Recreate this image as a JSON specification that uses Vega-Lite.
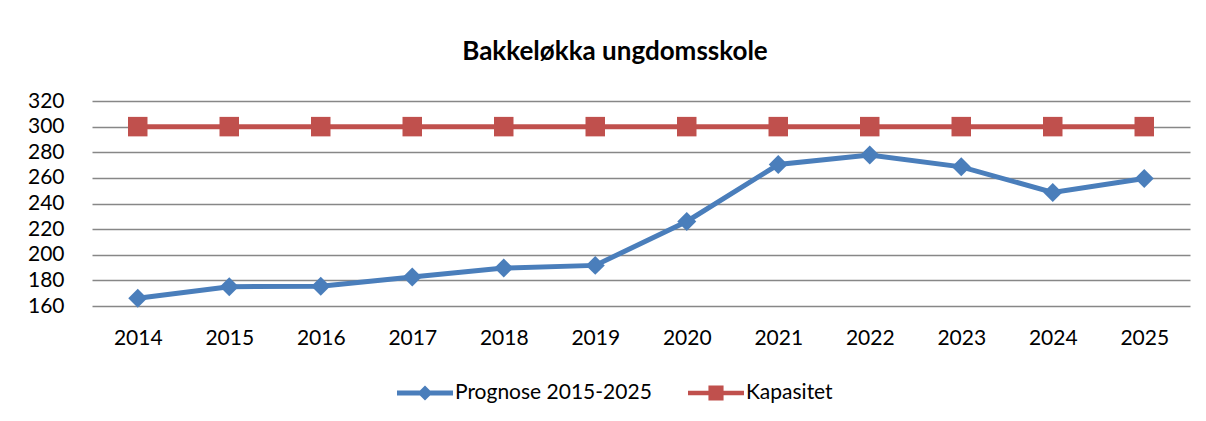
{
  "$schema": "https://vega.github.io/schema/vega-lite/v6.json",
  "autosize": "none",
  "width": 1098,
  "height": 205,
  "padding": {"left": 92, "top": 101, "right": 16, "bottom": 115},
  "background": "white",
  "title": {
    "text": "Bakkeløkka ungdomsskole",
    "font": "Lato",
    "fontSize": 26,
    "fontWeight": "bold",
    "color": "#000000",
    "anchor": "middle",
    "dx": -26,
    "offset": 25
  },
  "config": {
    "view": {"stroke": null},
    "font": "Lato",
    "axis": {"labelFont": "Lato", "labelFontSize": 21, "labelColor": "#000000", "title": null},
    "legend": {"labelFont": "Lato", "labelFontSize": 21, "labelColor": "#000000", "labelLimit": 0}
  },
  "data": {
    "values": [
      {"year": "2014", "series": "Prognose 2015-2025", "value": 166},
      {"year": "2015", "series": "Prognose 2015-2025", "value": 175},
      {"year": "2016", "series": "Prognose 2015-2025", "value": 175.5},
      {"year": "2017", "series": "Prognose 2015-2025", "value": 182.6},
      {"year": "2018", "series": "Prognose 2015-2025", "value": 189.6},
      {"year": "2019", "series": "Prognose 2015-2025", "value": 191.7},
      {"year": "2020", "series": "Prognose 2015-2025", "value": 226},
      {"year": "2021", "series": "Prognose 2015-2025", "value": 270.4},
      {"year": "2022", "series": "Prognose 2015-2025", "value": 277.9},
      {"year": "2023", "series": "Prognose 2015-2025", "value": 268.6},
      {"year": "2024", "series": "Prognose 2015-2025", "value": 248.6},
      {"year": "2025", "series": "Prognose 2015-2025", "value": 259.5},
      {"year": "2014", "series": "Kapasitet", "value": 300},
      {"year": "2015", "series": "Kapasitet", "value": 300},
      {"year": "2016", "series": "Kapasitet", "value": 300},
      {"year": "2017", "series": "Kapasitet", "value": 300},
      {"year": "2018", "series": "Kapasitet", "value": 300},
      {"year": "2019", "series": "Kapasitet", "value": 300},
      {"year": "2020", "series": "Kapasitet", "value": 300},
      {"year": "2021", "series": "Kapasitet", "value": 300},
      {"year": "2022", "series": "Kapasitet", "value": 300},
      {"year": "2023", "series": "Kapasitet", "value": 300},
      {"year": "2024", "series": "Kapasitet", "value": 300},
      {"year": "2025", "series": "Kapasitet", "value": 300}
    ]
  },
  "encoding": {
    "x": {
      "field": "year",
      "type": "ordinal",
      "scale": {"type": "point", "padding": 0.5},
      "axis": {"labelAngle": 0, "domain": false, "ticks": false, "grid": false, "labelPadding": 21}
    },
    "y": {
      "field": "value",
      "type": "quantitative",
      "scale": {"domain": [160, 320], "nice": false, "zero": false},
      "axis": {"values": [160, 180, 200, 220, 240, 260, 280, 300, 320], "domain": false, "ticks": false, "grid": true, "gridColor": "#878787", "gridWidth": 1.5, "labelPadding": 28}
    }
  },
  "layer": [
    {
      "mark": {"type": "line", "strokeWidth": 5},
      "encoding": {
        "color": {
          "field": "series",
          "type": "nominal",
          "scale": {"domain": ["Prognose 2015-2025", "Kapasitet"], "range": ["#4A7EBB", "#C0504D"]}
        }
      }
    },
    {
      "transform": [{"filter": "datum.series === 'Prognose 2015-2025'"}],
      "mark": {"type": "point", "shape": "diamond", "filled": true, "opacity": 1, "size": 360, "color": "#4A7EBB"}
    },
    {
      "transform": [{"filter": "datum.series === 'Kapasitet'"}],
      "mark": {"type": "point", "shape": "square", "filled": true, "opacity": 1, "size": 380, "color": "#C0504D"}
    },
    {
      "transform": [{"filter": "datum.value < 0"}],
      "mark": {"type": "point", "filled": true, "opacity": 1},
      "encoding": {
        "color": {
          "field": "series",
          "type": "nominal",
          "legend": {
            "title": null,
            "orient": "none",
            "direction": "horizontal",
            "legendX": 305,
            "legendY": 264,
            "symbolSize": 3136,
            "symbolOpacity": 1,
            "symbolStrokeWidth": 0,
            "labelOffset": 2,
            "columnPadding": 36
          }
        },
        "shape": {
          "field": "series",
          "type": "nominal",
          "scale": {
            "domain": ["Prognose 2015-2025", "Kapasitet"],
            "range": [
              "M-1,-0.09L1,-0.09L1,0.09L-1,0.09Z M0,-0.27L0.27,0L0,0.27L-0.27,0Z",
              "M-1,-0.08L1,-0.08L1,0.08L-1,0.08Z M-0.27,-0.27L0.27,-0.27L0.27,0.27L-0.27,0.27Z"
            ]
          }
        }
      }
    }
  ]
}
